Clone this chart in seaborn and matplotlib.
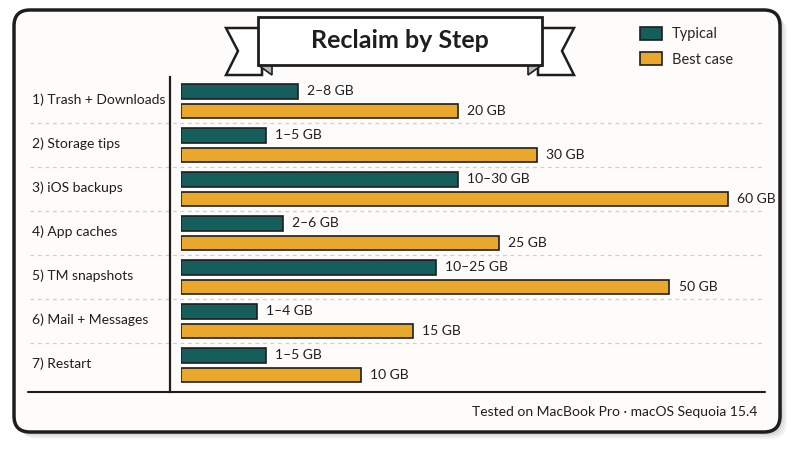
import numpy as np
import pandas as pd
import matplotlib
matplotlib.use('Agg')
import matplotlib.pyplot as plt
import seaborn as sns
from matplotlib.patches import FancyBboxPatch, Polygon, Patch
from matplotlib.lines import Line2D
from matplotlib.transforms import IdentityTransform, blended_transform_factory

# Data
steps = ['1) Trash + Downloads', '2) Storage tips', '3) iOS backups', '4) App caches',
         '5) TM snapshots', '6) Mail + Messages', '7) Restart']
typical_low = [2, 1, 10, 2, 10, 1, 1]
typical_high = [8, 5, 30, 6, 25, 4, 5]
best_case = [20, 30, 60, 25, 50, 15, 10]
title = 'Reclaim by Step'
footer = 'Tested on MacBook Pro · macOS Sequoia 15.4'

teal = '#155e5c'
orange = '#e9a82c'
ink = '#1e1e1e'

# typical bar drawn at the middle of its range
typical_mid = [(lo + hi) / 2 for lo, hi in zip(typical_low, typical_high)]
df = pd.DataFrame({
    'step': steps * 2,
    'scenario': ['Typical'] * len(steps) + ['Best case'] * len(steps),
    'gb': typical_mid + best_case,
})

sns.set_style('white')
plt.rcParams['font.family'] = ['Lato', 'DejaVu Sans']

W, H = 800, 450
fig = plt.figure(figsize=(8, 4.5), dpi=100, facecolor='white')

# frame with shadow (pixel coords, origin bottom-left)
px = IdentityTransform()
for off, a in [(7, 0.10), (5, 0.15), (3, 0.2)]:
    fig.add_artist(FancyBboxPatch((14 + off, 18 - off), 766, 422,
                                  boxstyle='round,pad=0,rounding_size=16',
                                  transform=px, fc='#9a9a9a', ec='none', alpha=a, zorder=-3))
fig.add_artist(FancyBboxPatch((14, 18), 766, 422, boxstyle='round,pad=0,rounding_size=16',
                              transform=px, fc='#fdfcfb', ec=ink, lw=2.5, zorder=-2))

ax = fig.add_axes([181 / W, 1 - 392 / H, 584 / W, 315 / H])
ax.set_facecolor('none')

sns.barplot(data=df, y='step', x='gb', hue='scenario', palette=[teal, orange], orient='h',
            width=0.88, gap=0.27, saturation=1, edgecolor=ink, linewidth=1.2,
            legend=False, ax=ax)

# non-linear (power) scale as in the reference
P, A = 0.62, 43.2
fwd = lambda x: np.sign(x) * np.abs(x) ** P
inv = lambda y: np.sign(y) * np.abs(y) ** (1 / P)
ax.set_xscale('function', functions=(fwd, inv))
ax.set_xlim(0, (584 / A) ** (1 / P))
ax.set_ylim(6.61, -0.55)

ax.set_xlabel('')
ax.set_ylabel('')
ax.set_xticks([])
ax.tick_params(left=False, labelleft=False, bottom=False, labelbottom=False)
for s in ['top', 'right', 'bottom']:
    ax.spines[s].set_visible(False)
ax.spines['left'].set_position(('outward', 8))
ax.spines['left'].set_color(ink)
ax.spines['left'].set_linewidth(1.6)

lab_tr = blended_transform_factory(fig.transFigure, ax.transData)
sep_tr = blended_transform_factory(ax.transAxes, ax.transData)
for i, name in enumerate(steps):
    ax.text(32 / W, i - 0.03, name, transform=lab_tr, va='center', ha='left',
            fontsize=10, color=ink)
    ax.annotate(f'{typical_low[i]}–{typical_high[i]} GB', xy=(typical_mid[i], i - 0.24),
                xytext=(6.5, 0), textcoords='offset points', va='center', fontsize=10, color=ink)
    ax.annotate(f'{best_case[i]} GB', xy=(best_case[i], i + 0.22),
                xytext=(6.5, 0), textcoords='offset points', va='center', fontsize=10, color=ink)
    if i < len(steps) - 1:
        ax.plot([(30 - 181) / 584, 1.0], [i + 0.5, i + 0.5], transform=sep_tr,
                color='#cfcfcf', lw=0.9, ls=(0, (3, 3)), clip_on=False)

# bottom rule
fig.add_artist(Line2D([28 / W, 765 / W], [1 - 392 / H] * 2, transform=fig.transFigure,
                      color=ink, lw=1.5))

# title banner
def pxy(pts):
    return [(x, H - y) for x, y in pts]

for side in [1, -1]:
    c = 400
    tail = [(c - side * 174, 28), (c - side * 138, 28), (c - side * 138, 75),
            (c - side * 174, 75), (c - side * 162, 51)]
    fig.add_artist(Polygon(pxy(tail), closed=True, transform=px, fc='white', ec=ink,
                           lw=1.8, zorder=2))
    fold = [(c - side * 142, 65), (c - side * 128, 75), (c - side * 128, 65)]
    fig.add_artist(Polygon(pxy(fold), closed=True, transform=px, fc='#b8b8b8', ec=ink,
                           lw=1.2, zorder=2))
fig.add_artist(Polygon(pxy([(258, 17), (542, 17), (542, 65), (258, 65)]), closed=True,
                       transform=px, fc='white', ec=ink, lw=2, zorder=3))
fig.text(0.5, 1 - 41 / H, title, ha='center', va='center', fontsize=18, fontweight='bold',
         color=ink, zorder=4)

# legend
handles = [Patch(fc=teal, ec=ink, lw=1.2, label='Typical'),
           Patch(fc=orange, ec=ink, lw=1.2, label='Best case')]
fig.legend(handles=handles, loc='upper left', bbox_to_anchor=(640 / W, 1 - 27 / H),
           frameon=False, fontsize=10.5, handlelength=1.5, handleheight=0.95,
           handletextpad=0.7, labelspacing=0.75, borderpad=0, borderaxespad=0)

fig.text(757 / W, 1 - 412 / H, footer, ha='right', va='center', fontsize=10, color=ink)

fig.savefig('out.png', dpi=100, facecolor='white')
